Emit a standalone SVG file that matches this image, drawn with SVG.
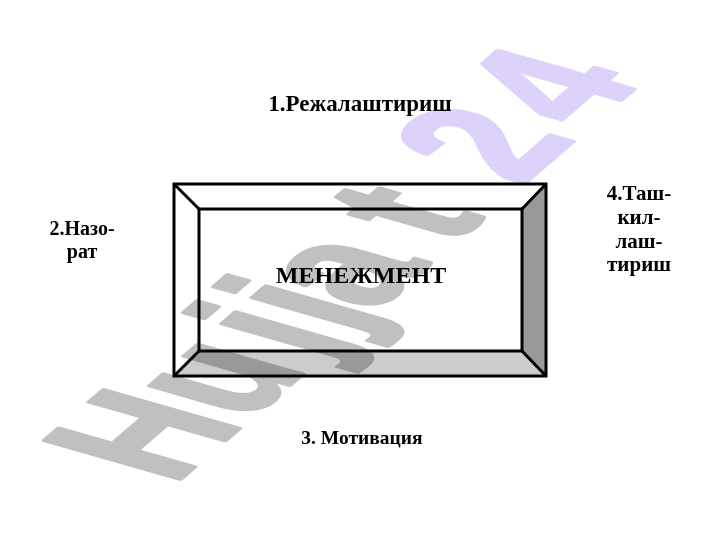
<svg xmlns="http://www.w3.org/2000/svg" width="720" height="540" viewBox="0 0 720 540">
<style>
.t{font-family:"Liberation Serif","Times New Roman",serif;font-weight:bold;fill:#000;text-anchor:middle}
.edge{stroke:#000;stroke-width:3;stroke-linejoin:miter}
.wm{font-family:"Liberation Sans",Arial,sans-serif;font-weight:bold;font-size:100px;stroke-width:3;stroke-linejoin:round}
.g{fill:#c0c0c0;stroke:#c0c0c0}
.v{fill:#dcd2fa;stroke:#dcd2fa}
</style>
<rect width="720" height="540" fill="#fff"/>
<g id="menejment">
<polygon points="174,184 546,184 522,209 199,209" fill="#fff"/>
<polygon points="174,184 199,209 199,351 174,376" fill="#fff"/>
<polygon points="546,184 546,376 522,351 522,209" fill="#999"/>
<polygon points="174,376 546,376 522,351 199,351" fill="#ccc"/>
<rect x="174" y="184" width="372" height="192" fill="none" class="edge"/>
<rect x="199" y="209" width="323" height="142" fill="none" class="edge"/>
<g class="edge">
<line x1="174" y1="184" x2="199" y2="209"/>
<line x1="546" y1="184" x2="522" y2="209"/>
<line x1="174" y1="376" x2="199" y2="351"/>
<line x1="546" y1="376" x2="522" y2="351"/>
</g>
<text class="t" x="361" y="283" font-size="24">МЕНЕЖМЕНТ</text>
</g>
<g id="label1"><text class="t" x="360" y="111" font-size="23">1.Режалаштириш</text></g>
<g id="label2"><text class="t" font-size="20"><tspan x="82" y="235">2.Назо-</tspan><tspan x="82" y="257.5">рат</tspan></text></g>
<g id="label3"><text class="t" x="362" y="444" font-size="19.5">3. Мотивация</text></g>
<g id="label4"><text class="t" font-size="21"><tspan x="639" y="200">4.Таш-</tspan><tspan x="639" y="224">кил-</tspan><tspan x="639" y="248">лаш-</tspan><tspan x="639" y="271">тириш</tspan></text></g>
<g id="connectors"/>
<g id="watermark" style="mix-blend-mode:multiply">
<text class="wm" y="0" transform="matrix(1.008,-0.867,1.96,0.56,172.9,485.1)"><tspan class="g" x="0 74 145 175 200 277">Hujjat</tspan><tspan class="v" x="345 411">24</tspan></text>
</g>
</svg>
